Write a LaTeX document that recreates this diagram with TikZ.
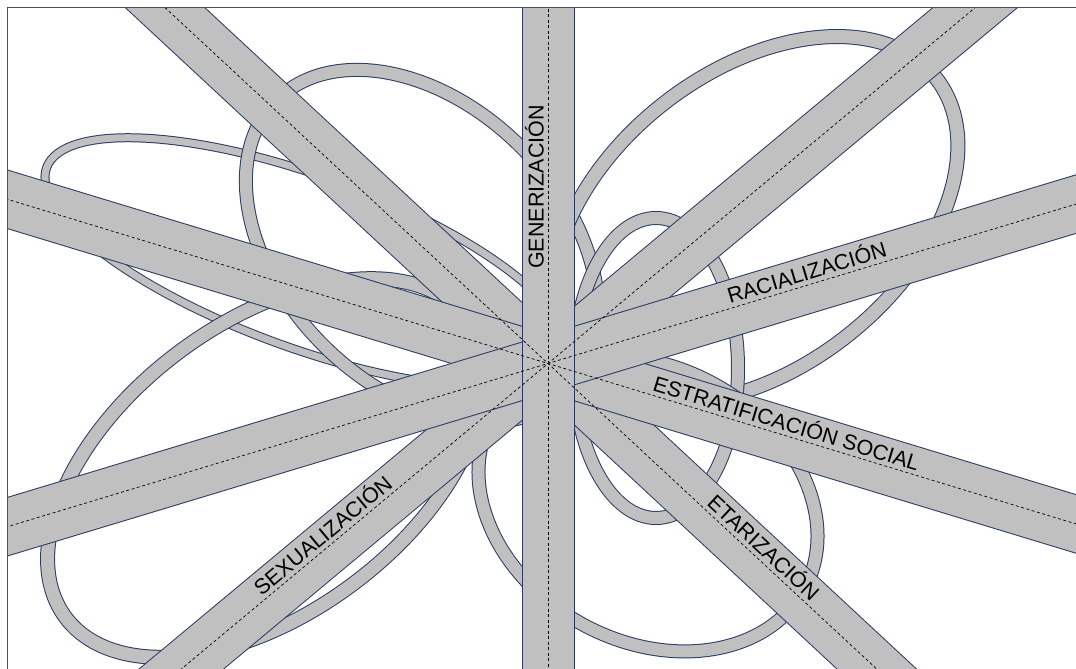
\documentclass[tikz,border=0pt]{standalone}
\usepackage{fontspec}
\setmainfont{Liberation Sans}
\usetikzlibrary{calc}
\definecolor{bandgray}{RGB}{192,192,192}
\definecolor{bandedge}{RGB}{40,58,98}
\definecolor{framegray}{RGB}{80,80,80}

\begin{document}
\begin{tikzpicture}[
  x=1pt, y=-1pt,
  band/.style={draw=bandedge, line width=1pt, double=bandgray},
  ring/.style={draw=bandedge, line width=1pt, double=bandgray},
  axis/.style={draw=black, line width=0.7pt, dash pattern=on 3pt off 2.5pt},
  lbl/.style={sloped, above=3pt, inner sep=1pt,
    font=\fontsize{21.5}{25}\selectfont},
]
\useasboundingbox (0,0) rectangle (1076,669);
% centre and band ends
\coordinate (c) at (548,363.5);
\foreach \n/\a in {etar/42.9, sexu/-39.8, estr/16.9, raci/-16.8, gene/-90} {
  \coordinate (\n1) at ($(c)+(\a:800)$);
  \coordinate (\n2) at ($(c)+(\a+180:800)$);
}
\begin{scope}
\clip (7.5,7.5) rectangle (1076,669);
% rings
\foreach \x/\y/\ra/\rb/\r/\w in {
    306/262/276/86/-20/7pt,
    266/468/250/145/36.7/13pt,
    422/246/206/140/-45/12pt,
    755/220/230/148/38/13pt,
    656/368/82/150/0/12pt,
    648/504/178/137/-28.6/12pt} {
  \draw[ring, double distance=\w, rotate around={\r:(\x,\y)}]
    (\x,\y) ellipse [x radius=\ra, y radius=\rb];
}
% bands
\foreach \n/\w in {etar/53pt, sexu/53pt, estr/55pt, raci/55pt, gene/51pt} {
  \draw[band, double distance=\w] (\n1) -- (\n2);
}
% centre lines
\foreach \n in {etar, sexu, estr, raci, gene} {
  \draw[axis] (\n1) -- (\n2);
}
\end{scope}
% labels
\path (c) -- (gene1) node[lbl, pos=0.2206] (gen) {GENERIZACIÓN};
\path (c) -- (raci1) node[lbl, pos=0.3425] (rac) {RACIALIZACIÓN};
\path (c) -- (estr1) node[lbl, pos=0.307] (est) {ESTRATIFICACIÓN SOCIAL};
\path (c) -- (etar1) node[lbl, pos=0.354] (eta) {ETARIZACIÓN};
\path (sexu2) -- (c) node[lbl, pos=0.646] (sex) {SEXUALIZACIÓN};
% frame
\draw[framegray, line width=1.3pt] (7.5,669) -- (7.5,7.5) -- (1076,7.5);
\end{tikzpicture}
\end{document}
